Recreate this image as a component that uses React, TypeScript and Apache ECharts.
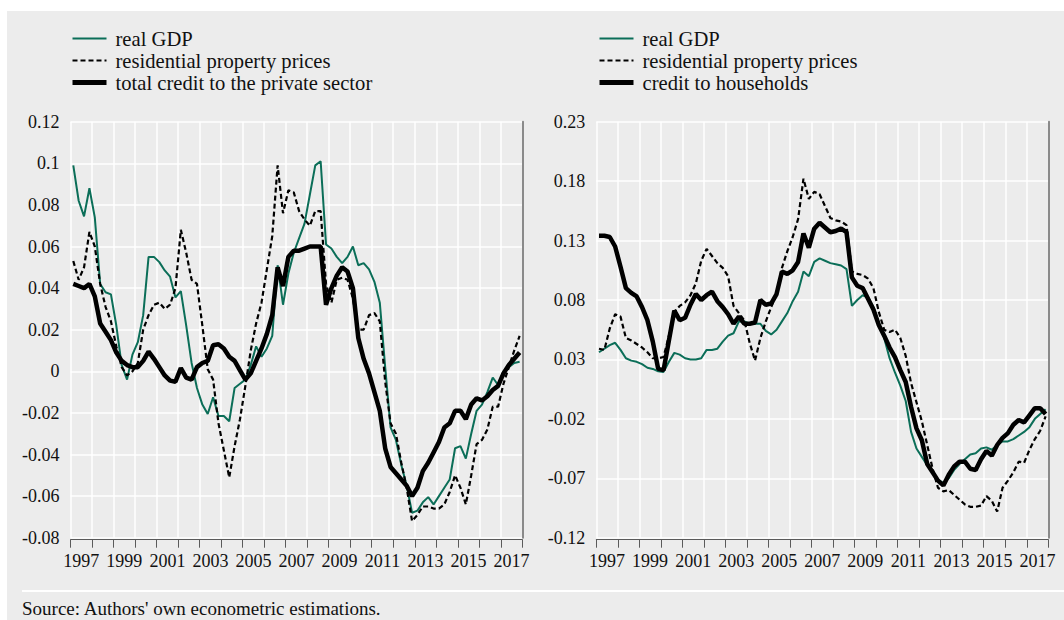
import React, { useEffect, useRef } from "react";
import * as echarts from "echarts";

const years = ["1997","1998","1999","2000","2001","2002","2003","2004","2005","2006","2007","2008","2009","2010","2011","2012","2013","2014","2015","2016","2017"];
const quarterSuffixes = ["Q1", "Q2", "Q3", "Q4"];
const quarters: string[] = [];
years.forEach((y) => quarterSuffixes.forEach((q) => quarters.push(y + q)));

const leftGdp = [
  0.099, 0.082, 0.0745, 0.088, 0.074, 0.042, 0.038, 0.037, 0.022, 0.003,
  -0.004, 0.008, 0.014, 0.027, 0.055, 0.055, 0.0525, 0.0485, 0.0455, 0.0355,
  0.0385, 0.022, 0.004, -0.008, -0.016, -0.0205, -0.0125, -0.0215, -0.0215, -0.024,
  -0.008, -0.006, -0.004, 0.003, 0.012, 0.007, 0.011, 0.017, 0.051, 0.032,
  0.047, 0.057, 0.064, 0.071, 0.085, 0.099, 0.101, 0.061, 0.059, 0.055,
  0.052, 0.055, 0.06, 0.051, 0.052, 0.049, 0.043, 0.033, 0.002, -0.027,
  -0.033, -0.045, -0.055, -0.068, -0.067, -0.063, -0.0605, -0.064, -0.06, -0.056,
  -0.052, -0.037, -0.036, -0.042, -0.03, -0.019, -0.016, -0.01, -0.003, -0.0066,
  0.0, 0.002, 0.004, 0.0046,
];
const leftHousePrices = [
  0.053, 0.044, 0.05, 0.067, 0.06, 0.042, 0.031, 0.024, 0.012, 0.002,
  -0.002, 0.0, 0.004, 0.02, 0.027, 0.032, 0.033, 0.03, 0.032, 0.04,
  0.068, 0.057, 0.044, 0.042, 0.022, 0.001, -0.004, -0.025, -0.038, -0.051,
  -0.036, -0.023, -0.007, 0.01, 0.023, 0.033, 0.049, 0.065, 0.099, 0.076,
  0.087, 0.086, 0.077, 0.073, 0.07, 0.077, 0.077, 0.042, 0.033, 0.044,
  0.045, 0.044, 0.035, 0.02, 0.02, 0.027, 0.028, 0.024, -0.005, -0.025,
  -0.03, -0.044, -0.056, -0.072, -0.069, -0.065, -0.065, -0.066, -0.066, -0.064,
  -0.058, -0.05, -0.056, -0.064, -0.05, -0.035, -0.033, -0.028, -0.017, -0.017,
  -0.006, 0.002, 0.01, 0.017,
];
const leftCredit = [
  0.042, 0.041, 0.04, 0.042, 0.036, 0.023, 0.019, 0.015, 0.009, 0.005,
  0.003, 0.002, 0.002, 0.005, 0.0095, 0.006, 0.002, -0.002, -0.0045, -0.005,
  0.0015, -0.003, -0.004, 0.002, 0.004, 0.005, 0.0125, 0.013, 0.011, 0.007,
  0.005, 0.0005, -0.004, -0.001, 0.005, 0.011, 0.018, 0.027, 0.05, 0.041,
  0.055, 0.058, 0.058, 0.059, 0.06, 0.06, 0.06, 0.032, 0.04, 0.046,
  0.05, 0.048, 0.04, 0.016, 0.006, -0.001, -0.01, -0.019, -0.037, -0.046,
  -0.049, -0.052, -0.055, -0.06, -0.056, -0.048, -0.044, -0.039, -0.034, -0.027,
  -0.025, -0.019, -0.019, -0.023, -0.016, -0.013, -0.014, -0.012, -0.009, -0.007,
  -0.001, 0.003, 0.006, 0.009,
];

const rightGdp = [
  0.036, 0.039, 0.042, 0.044, 0.038, 0.031, 0.029, 0.028, 0.026, 0.023,
  0.022, 0.02, 0.0195, 0.028, 0.0355, 0.034, 0.031, 0.03, 0.03, 0.031,
  0.038, 0.038, 0.039, 0.045, 0.05, 0.052, 0.062, 0.062, 0.06, 0.06,
  0.06, 0.054, 0.051, 0.055, 0.062, 0.069, 0.079, 0.087, 0.104, 0.1,
  0.112, 0.115, 0.113, 0.111, 0.11, 0.109, 0.106, 0.075, 0.08, 0.084,
  0.082, 0.074, 0.061, 0.048, 0.031, 0.019, 0.008, -0.005, -0.031, -0.045,
  -0.052, -0.059, -0.065, -0.071, -0.074, -0.07, -0.063, -0.058, -0.054, -0.05,
  -0.049, -0.045, -0.044, -0.046, -0.042, -0.039, -0.039, -0.037, -0.034, -0.031,
  -0.027, -0.02, -0.016, -0.012,
];
const rightHousePrices = [
  0.039, 0.038, 0.056, 0.068, 0.066, 0.048, 0.046, 0.043, 0.04, 0.036,
  0.031, 0.031, 0.032, 0.05, 0.07, 0.075, 0.078, 0.084, 0.094, 0.113,
  0.123, 0.117, 0.111, 0.107, 0.1, 0.075, 0.069, 0.063, 0.044, 0.029,
  0.048, 0.062, 0.074, 0.085, 0.107, 0.121, 0.133, 0.148, 0.182, 0.165,
  0.171, 0.169, 0.159, 0.149, 0.147, 0.146, 0.143, 0.104, 0.102, 0.101,
  0.098, 0.09, 0.07, 0.055, 0.053, 0.055, 0.048, 0.033, 0.01, -0.006,
  -0.022, -0.042, -0.062, -0.078, -0.081, -0.08, -0.084, -0.088, -0.092, -0.094,
  -0.094, -0.093, -0.085, -0.089, -0.098, -0.078, -0.072, -0.065, -0.056, -0.057,
  -0.046, -0.037, -0.03, -0.018,
];
const rightCredit = [
  0.134, 0.134, 0.133, 0.125, 0.108, 0.09, 0.086, 0.083, 0.074, 0.063,
  0.045, 0.022, 0.021, 0.046, 0.071, 0.063, 0.065, 0.076, 0.085, 0.08,
  0.084, 0.087, 0.079, 0.074, 0.068, 0.06, 0.066, 0.06, 0.06, 0.061,
  0.08, 0.076, 0.077, 0.085, 0.104, 0.102, 0.105, 0.112, 0.136, 0.124,
  0.14, 0.145, 0.141, 0.137, 0.138, 0.14, 0.137, 0.099, 0.092, 0.09,
  0.081, 0.072, 0.059, 0.05, 0.04, 0.032, 0.021, 0.011, -0.01, -0.028,
  -0.038, -0.058, -0.065, -0.072, -0.076, -0.067, -0.06, -0.056, -0.056, -0.062,
  -0.063, -0.054, -0.047, -0.051, -0.042, -0.036, -0.032, -0.025, -0.021, -0.023,
  -0.017, -0.011, -0.011, -0.016,
];

const leftY = { min: -0.08, max: 0.12, interval: 0.02 };
const rightY = { min: -0.12, max: 0.23, interval: 0.05 };

const seriesNames = {
  gdp: "real GDP",
  prices: "residential property prices",
  credit: "total credit to the private sector",
  households: "credit to households",
};
const sourceText = "Source: Authors' own econometric estimations.";

const FONT = "'Liberation Serif', 'Times New Roman', serif";
const GREEN = "#0b6e58";
const GRID_LINE = "#ffffff";
const AXIS_GRAY = "#5a5a5a";

function makeAxes(gridIndex: number, y: { min: number; max: number; interval: number }) {
  const xAxes = [
    {
      type: "category",
      gridIndex,
      position: "top",
      data: quarters,
      boundaryGap: true,
      show: false,
      axisLine: { show: false, onZero: false },
    },
    {
      type: "category",
      gridIndex,
      position: "bottom",
      data: years,
      boundaryGap: true,
      offset: 2,
      axisLine: { show: true, onZero: false, lineStyle: { color: AXIS_GRAY, width: 1 } },
      axisTick: { show: true, interval: 0, length: 8, lineStyle: { color: AXIS_GRAY, width: 1 } },
      axisLabel: { interval: 1, margin: 12, fontFamily: FONT, fontSize: 18, color: "#111" },
      splitLine: { show: true, interval: 0, lineStyle: { color: GRID_LINE, width: 1.5 } },
    },
  ];
  const yAxes = [
    {
      type: "value",
      gridIndex,
      position: "left",
      min: y.min,
      max: y.max,
      interval: y.interval,
      axisLine: { show: false },
      axisTick: { show: false },
      axisLabel: { margin: 11, fontFamily: FONT, fontSize: 18, color: "#111" },
      splitLine: { show: true, lineStyle: { color: GRID_LINE, width: 1.5 } },
    },
    {
      type: "value",
      gridIndex,
      position: "right",
      min: y.min,
      max: y.max,
      interval: y.interval,
      axisLine: { show: true, lineStyle: { color: "#8a8a8a", width: 2 } },
      axisTick: { show: false },
      axisLabel: { show: false },
      splitLine: { show: false },
    },
  ];
  return { xAxes, yAxes };
}

function line(name: string, data: number[], xAxisIndex: number, yAxisIndex: number, kind: "gdp" | "prices" | "credit") {
  const lineStyle =
    kind === "gdp"
      ? { color: GREEN, width: 2 }
      : kind === "prices"
      ? { color: "#000", width: 2.2, type: [5, 3] }
      : { color: "#000", width: 4.5 };
  return {
    name,
    type: "line",
    xAxisIndex,
    yAxisIndex,
    data,
    symbol: "none",
    showSymbol: false,
    color: lineStyle.color,
    lineStyle,
    z: kind === "credit" ? 4 : 3,
  };
}

export default function App() {
  const ref = useRef<HTMLDivElement>(null);
  useEffect(() => {
    if (!ref.current) return;
    const chart = echarts.init(ref.current, null, { renderer: "svg" });
    const left = makeAxes(0, leftY);
    const right = makeAxes(1, rightY);
    const legendBase = {
      orient: "vertical",
      top: 28,
      padding: 0,
      itemWidth: 34,
      itemHeight: 14,
      itemGap: 1,
      selectedMode: false,
      itemStyle: { opacity: 0 },
      textStyle: { fontFamily: FONT, fontSize: 20.6, color: "#111", padding: [0, 0, 0, 4] },
    };
    const thick = { width: 5 };
    chart.setOption({
      animation: false,
      backgroundColor: "transparent",
      grid: [
        { left: 70.6, top: 121.7, width: 451.7, height: 416 },
        { left: 596.3, top: 121.7, width: 452, height: 416 },
      ],
      xAxis: [...left.xAxes, ...right.xAxes],
      yAxis: [...left.yAxes, ...right.yAxes],
      legend: [
        {
          ...legendBase,
          left: 70,
          data: [
            { name: seriesNames.gdp },
            { name: seriesNames.prices },
            { name: seriesNames.credit, lineStyle: thick },
          ],
        },
        {
          ...legendBase,
          left: 597,
          data: [
            { name: seriesNames.gdp },
            { name: seriesNames.prices },
            { name: seriesNames.households, lineStyle: thick },
          ],
        },
      ],
      graphic: [
        {
          type: "line",
          shape: { x1: 22, y1: 591, x2: 1064, y2: 591 },
          style: { stroke: "#ffffff", lineWidth: 2 },
          silent: true,
        },
        {
          type: "text",
          left: 22,
          top: 599,
          style: { text: sourceText, fontFamily: FONT, fontSize: 19, fill: "#111" },
          silent: true,
        },
      ],
      series: [
        line(seriesNames.gdp, leftGdp, 0, 0, "gdp"),
        line(seriesNames.prices, leftHousePrices, 0, 0, "prices"),
        line(seriesNames.credit, leftCredit, 0, 0, "credit"),
        line(seriesNames.gdp, rightGdp, 2, 2, "gdp"),
        line(seriesNames.prices, rightHousePrices, 2, 2, "prices"),
        line(seriesNames.households, rightCredit, 2, 2, "credit"),
      ],
    });
    return () => chart.dispose();
  }, []);
  return (
    <div style={{ position: "absolute", left: 0, top: 0, width: 1064, height: 620, background: "#fff", overflow: "hidden" }}>
      <div style={{ position: "absolute", left: 7, top: 11, width: 1057, height: 609, background: "#ececec" }} />
      <div ref={ref} style={{ position: "absolute", left: 0, top: 0, width: 1064, height: 620 }} />
    </div>
  );
}
